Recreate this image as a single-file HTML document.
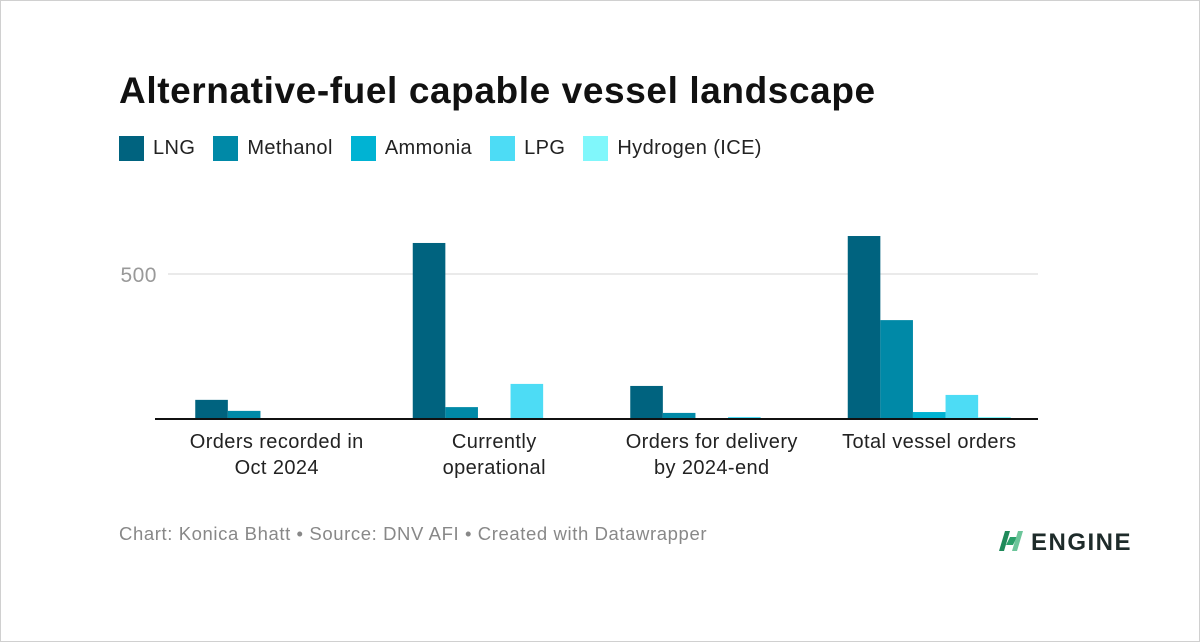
<!DOCTYPE html>
<html><head><meta charset="utf-8"><style>
html,body{margin:0;padding:0;background:#fff}
body{width:1200px;height:642px;position:relative;overflow:hidden;font-family:"Liberation Sans",Arial,sans-serif}
#frame{position:absolute;left:0;top:0;width:1198px;height:640px;border:1px solid #d0d0d0}
h1{position:absolute;left:119px;top:70px;margin:0;font-size:37px;font-weight:bold;color:#111;letter-spacing:0.6px}
.legend{position:absolute;left:119px;top:136px;display:flex;font-size:20px;color:#222;letter-spacing:0.4px}
.li{display:flex;align-items:center;margin-right:18px}
.sw{width:25px;height:25px;margin-right:9px}
.foot{position:absolute;left:119px;top:523px;font-size:18.5px;color:#888;letter-spacing:0.6px}
</style></head><body>
<div id="frame"></div>
<h1>Alternative-fuel capable vessel landscape</h1>
<div class="legend">
<div class="li"><div class="sw" style="background:#00637f"></div>LNG</div>
<div class="li"><div class="sw" style="background:#0089a7"></div>Methanol</div>
<div class="li"><div class="sw" style="background:#00b3d3"></div>Ammonia</div>
<div class="li"><div class="sw" style="background:#4ddcf5"></div>LPG</div>
<div class="li"><div class="sw" style="background:#80f7fb"></div>Hydrogen (ICE)</div>
</div>
<svg id="chart" width="1200" height="642" style="position:absolute;left:0;top:0"></svg>
<div class="foot">Chart: Konica Bhatt • Source: DNV AFI • Created with Datawrapper</div>
<svg style="position:absolute;left:996px;top:527px" width="150" height="28">
<polygon points="3,24 9,4 14,4 8,24" fill="#1f8a5a"/>
<polygon points="10,18 14,10 21,10 17,18" fill="#2aa06a"/>
<polygon points="16,24 22,4 27,4 21,24" fill="#6cc59a"/>
<text x="35" y="23" font-family="Liberation Sans, sans-serif" font-weight="bold" font-size="24" fill="#1e2b2a" letter-spacing="1.5">ENGINE</text>
</svg>
<script>
const categories=[["Orders recorded in","Oct 2024"],["Currently","operational"],["Orders for delivery","by 2024-end"],["Total vessel orders"]];
const lng=[66,607,114,631];
const methanol=[28,41,21,341];
const ammonia=[0,0,0,24];
const lpg=[0,121,7,83];
const hydrogen=[0,0,0,7];
const yTicks=[500];
const seriesList=[lng,methanol,ammonia,lpg,hydrogen];
const seriesNames=["lng","methanol","ammonia","lpg","hydrogen"];
const colors=["#00637f","#0089a7","#00b3d3","#4ddcf5","#80f7fb"];
const NS="http://www.w3.org/2000/svg";
const svg=document.getElementById('chart');
const x0=168,x1=1038,base=419,pxPer=145/500;
const y=v=>base-v*pxPer;
const gw=(x1-x0)/categories.length, bw=32.6;
function mk(t,a){const e=document.createElementNS(NS,t);for(const k in a)e.setAttribute(k,a[k]);svg.appendChild(e);return e;}
yTicks.forEach(t=>{
 const l=mk('line',{x1:x0,x2:x1,y1:y(t),y2:y(t),stroke:'#e3e3e3','stroke-width':1.5});
 
 
 const tx=mk('text',{x:157,y:y(t)+8,'text-anchor':'end','font-size':21,fill:'#999','font-family':'Liberation Sans, sans-serif','letter-spacing':'0.5'});
 tx.textContent=t;
 
 
});
categories.forEach((c,i)=>{
 const cx=x0+gw*(i+0.5);
 const start=cx-bw*seriesList.length/2;
 seriesList.forEach((s,j)=>{
  if(s[i]<=0)return;
  const r=mk('rect',{x:start+j*bw,y:y(s[i]),width:bw,height:base-y(s[i]),fill:colors[j]});
  
  
 });
 c.forEach((line,k)=>{
  const t=mk('text',{x:cx,y:448+k*26,'text-anchor':'middle','font-size':20,fill:'#222','font-family':'Liberation Sans, sans-serif','letter-spacing':'0.4'});
  t.textContent=line;
  
  
 });
});
const ax=mk('line',{x1:x0-13,x2:x1,y1:base,y2:base,stroke:'#111','stroke-width':2});


</script>
</body></html>
